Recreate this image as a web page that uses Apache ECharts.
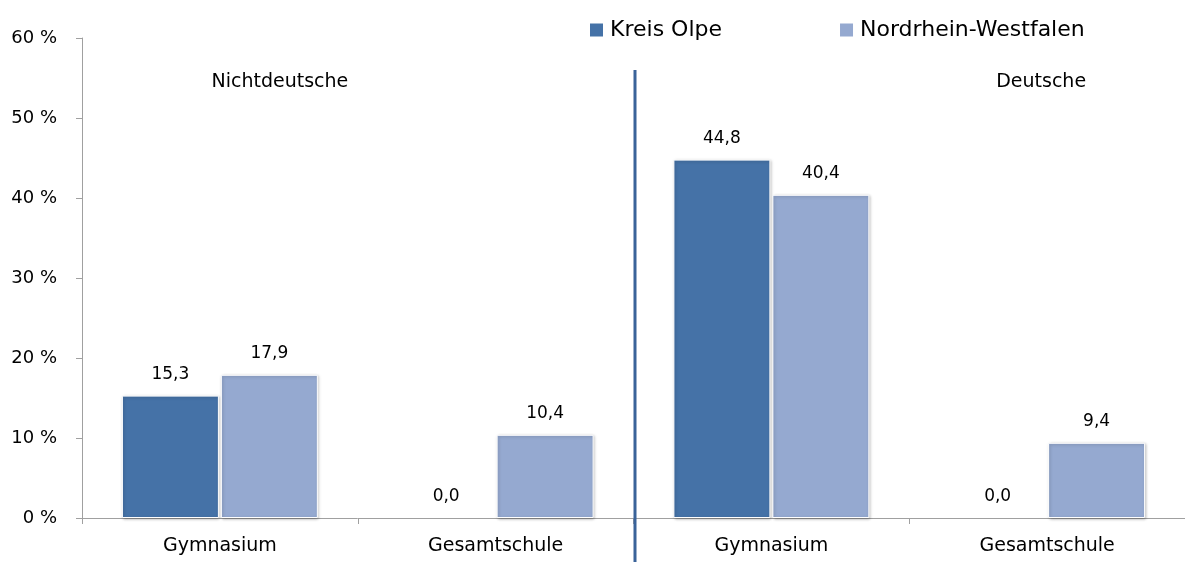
<!DOCTYPE html>
<html>
<head>
<meta charset="utf-8">
<script src="https://cdn.jsdelivr.net/npm/echarts@6/dist/echarts.min.js"></script>
<style>
  html, body { margin: 0; padding: 0; background: #fff; }
  #chart { width: 1185px; height: 562px; }
</style>
</head>
<body>
<div id="chart"></div>
<script>
// Schularten
var categories = ['Gymnasium', 'Gesamtschule', 'Gymnasium', 'Gesamtschule'];
// Anteil in %
var kreisOlpe = [15.3, 0.0, 44.8, 0.0];
var nrw = [17.9, 10.4, 40.4, 9.4];
var yTicks = [0, 10, 20, 30, 40, 50, 60];
var groupNames = ['Nichtdeutsche', 'Deutsche'];

var font = '"DejaVu Sans", sans-serif';

function fmt(v) {
  return v.toFixed(1).replace('.', ',');
}

// Nullwerte ohne Rahmen, sonst sieht man einen Strich
function toItems(arr) {
  return arr.map(function (v) {
    return v === 0 ? { value: v, itemStyle: { borderWidth: 0, shadowBlur: 0, shadowOffsetX: 0, shadowOffsetY: 0 } } : v;
  });
}

var myChart = echarts.init(document.getElementById('chart'));

var barLabel = {
  show: true,
  position: 'top',
  distance: 13,
  color: '#000',
  fontFamily: font,
  fontSize: 17,
  formatter: function (p) { return fmt(p.value); }
};

var barStyle = function (c) {
  return {
    color: c,
    borderColor: '#ffffff',
    borderWidth: 1,
    shadowColor: 'rgba(0,0,0,0.25)',
    shadowBlur: 3,
    shadowOffsetX: 1,
    shadowOffsetY: 1
  };
};

myChart.setOption({
  animation: false,
  textStyle: { fontFamily: font },
  legend: {
    data: ['Kreis Olpe', 'Nordrhein-Westfalen'],
    left: 588,
    top: 19,
    padding: 0,
    itemWidth: 15,
    itemHeight: 15,
    itemGap: 116,
    icon: 'rect',
    textStyle: { fontSize: 22, color: '#000', fontFamily: font, padding: [0, 0, 0, 1] }
  },
  grid: { left: 82, top: 38, bottom: 44, right: -5 },
  xAxis: {
    type: 'category',
    data: categories,
    axisLine: { lineStyle: { color: '#a0a0a0', width: 1 } },
    axisTick: { show: true, length: 6, lineStyle: { color: '#a0a0a0' } },
    axisLabel: { color: '#000', fontSize: 19, fontFamily: font, margin: 19 }
  },
  yAxis: {
    type: 'value',
    min: yTicks[0],
    max: yTicks[yTicks.length - 1],
    interval: yTicks[1] - yTicks[0],
    axisLine: { show: true, lineStyle: { color: '#a0a0a0', width: 1 } },
    axisTick: { show: true, length: 6, lineStyle: { color: '#a0a0a0' } },
    splitLine: { show: false },
    axisLabel: {
      color: '#000', fontSize: 18, fontFamily: font, margin: 25,
      formatter: function (v) { return v + ' %'; }
    }
  },
  series: [
    {
      name: 'Kreis Olpe',
      type: 'bar',
      data: toItems(kreisOlpe),
      barWidth: 97,
      barGap: '2%',
      itemStyle: barStyle('#4572a7'),
      label: barLabel
    },
    {
      name: 'Nordrhein-Westfalen',
      type: 'bar',
      data: toItems(nrw),
      barWidth: 97,
      barGap: '2%',
      itemStyle: barStyle('#95a9d0'),
      label: barLabel
    }
  ]
});

// Trennlinie zwischen den Gruppen und Gruppentitel
var x0 = myChart.convertToPixel({ xAxisIndex: 0 }, 0);
var x1 = myChart.convertToPixel({ xAxisIndex: 0 }, 1);
var x2 = myChart.convertToPixel({ xAxisIndex: 0 }, 2);
var x3 = myChart.convertToPixel({ xAxisIndex: 0 }, 3);
var xMid = (x1 + x2) / 2 + 1.5;

myChart.setOption({
  graphic: [
    {
      type: 'line',
      shape: { x1: xMid, y1: 70, x2: xMid, y2: 562 },
      style: { stroke: '#3a6399', lineWidth: 3 },
      z: 100
    },
    {
      type: 'text',
      x: x0 + 60,
      y: 82,
      style: { text: groupNames[0], fill: '#000', font: '19px ' + font, align: 'center', verticalAlign: 'middle' }
    },
    {
      type: 'text',
      x: x3 - 6,
      y: 82,
      style: { text: groupNames[1], fill: '#000', font: '19px ' + font, align: 'center', verticalAlign: 'middle' }
    }
  ]
});
</script>
</body>
</html>
